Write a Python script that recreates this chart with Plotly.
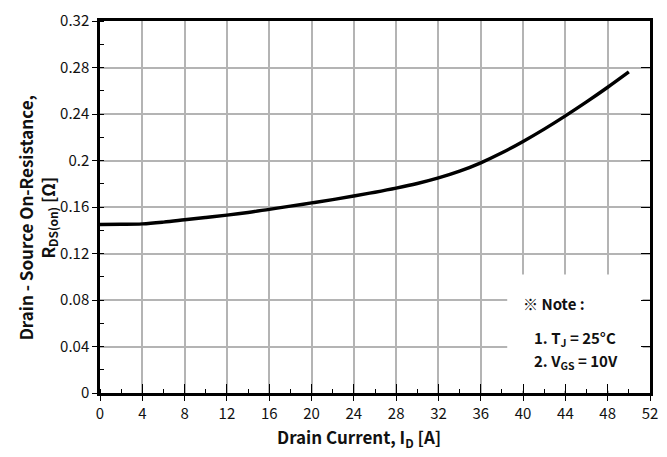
import plotly.graph_objects as go

# Drain current I_D [A] and on-resistance R_DS(on) [ohm]
drain_current = [0, 2, 4, 6, 8, 10, 12, 14, 16, 18, 20, 22, 24, 26, 28, 30,
                 32, 34, 36, 38, 40, 42, 44, 46, 48, 50]
rds_on = [0.145, 0.1451, 0.1455, 0.147, 0.149, 0.151, 0.153, 0.1553, 0.158,
          0.1607, 0.1635, 0.1664, 0.1695, 0.1727, 0.1762, 0.1802, 0.1850,
          0.1908, 0.1980, 0.2066, 0.2164, 0.2270, 0.2384, 0.2504, 0.2630,
          0.2762]

x_ticks = list(range(0, 53, 4))
y_ticks = [0, 0.04, 0.08, 0.12, 0.16, 0.2, 0.24, 0.28, 0.32]
y_tick_text = ["0", "0.04", "0.08", "0.12", "0.16", "0.2", "0.24", "0.28", "0.32"]

FONT = "Noto Sans CJK KR"
GRID = "#b4b4b4"

fig = go.Figure()
fig.add_trace(go.Scatter(
    x=drain_current, y=rds_on, mode="lines",
    line=dict(color="black", width=3.4, shape="spline", smoothing=1.0),
    showlegend=False, hoverinfo="skip",
))
# invisible trace so the inner-tick overlay axes are drawn
fig.add_trace(go.Scatter(x=[None], y=[None], xaxis="x2", yaxis="y2",
                         showlegend=False, hoverinfo="skip"))

fig.update_layout(
    width=667, height=457,
    margin=dict(l=100, r=9, t=16, b=64),
    paper_bgcolor="white", plot_bgcolor="white",
    font=dict(family=FONT, size=15, color="#111111"),
    xaxis=dict(
        range=[0, 52], tickvals=x_ticks, ticks="outside", ticklen=5,
        tickcolor="black", tickwidth=1,
        showgrid=True, gridcolor=GRID, gridwidth=1.5,
        showline=True, linecolor="black", linewidth=2.5, mirror=True,
        zeroline=False,
        minor=dict(dtick=2, ticks="inside", ticklen=4, tickcolor="black",
                   showgrid=False),
        tickfont=dict(family=FONT, size=15),
    ),
    yaxis=dict(
        range=[0, 0.32], tickvals=y_ticks, ticktext=y_tick_text,
        ticks="outside", ticklen=5, tickcolor="black", tickwidth=1,
        showgrid=True, gridcolor=GRID, gridwidth=1.5,
        showline=True, linecolor="black", linewidth=2.5, mirror=True,
        zeroline=False,
        minor=dict(dtick=0.02, ticks="inside", ticklen=4, tickcolor="black",
                   showgrid=False),
        tickfont=dict(family=FONT, size=15),
    ),
    xaxis2=dict(
        range=[0, 52], tickvals=x_ticks, ticks="inside", ticklen=9,
        tickcolor="black", tickwidth=1, showticklabels=False,
        showgrid=False, zeroline=False, showline=False,
        overlaying="x", side="bottom",
    ),
    yaxis2=dict(
        range=[0, 0.32], tickvals=y_ticks, ticks="inside", ticklen=9,
        tickcolor="black", tickwidth=1, showticklabels=False,
        showgrid=False, zeroline=False, showline=False,
        overlaying="y", side="right",
    ),
)

# white note box over the grid
fig.add_shape(type="rect", xref="x", yref="y",
              x0=38.5, x1=51.3, y0=0.002, y1=0.102,
              fillcolor="white", line=dict(width=0), layer="between")

# axis titles
fig.add_annotation(
    text="<b>Drain Current, I<sub>D</sub> [A]</b>",
    xref="paper", yref="paper", x=(363 - 100) / 558, y=-(438 - 393) / 377,
    xanchor="center", yanchor="middle", showarrow=False,
    font=dict(family=FONT, size=17, color="#111111"),
)
fig.add_annotation(
    text="<b>Drain - Source On-Resistance,<br>R<sub>DS(on)</sub> [Ω]</b>",
    xref="paper", yref="paper", x=(36 - 100) / 558, y=(393 - 215) / 377,
    xanchor="center", yanchor="middle", textangle=-90, showarrow=False,
    font=dict(family=FONT, size=17, color="#111111"),
)

# note text
notes = [
    ("<b>※ Note :</b>", 527, 302),
    ("<b>1. T<sub>J</sub> = 25°C</b>", 538, 338),
    ("<b>2. V<sub>GS</sub> = 10V</b>", 538, 361),
]
for txt, px, py in notes:
    fig.add_annotation(
        text=txt, xref="paper", yref="paper",
        x=(px - 100) / 558, y=(393 - py) / 377,
        xanchor="left", yanchor="middle", showarrow=False,
        font=dict(family=FONT, size=15, color="#111111"),
    )

fig.write_html("out.html")
